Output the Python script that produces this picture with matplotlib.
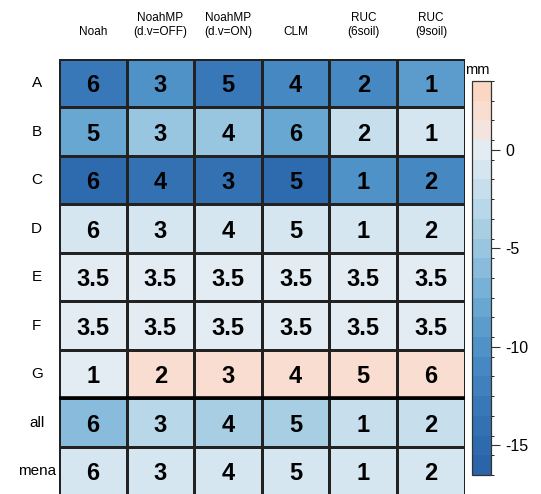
import matplotlib
matplotlib.use("Agg")
import matplotlib.pyplot as plt
import numpy as np
from matplotlib.colors import ListedColormap, BoundaryNorm

plt.rcParams['font.family'] = ['Liberation Sans', 'DejaVu Sans']

models = ["Noah", "NoahMP\n(d.v=OFF)", "NoahMP\n(d.v=ON)", "CLM", "RUC\n(6soil)", "RUC\n(9soil)"]
regions = ["A", "B", "C", "D", "E", "F", "G", "all", "mena"]

# bias field (mm) used for the cell colours
bias = np.array([
    [-13.5, -10.5, -13.0, -11.0, -11.0, -9.0],
    [-8.0, -5.0, -5.0, -8.0, -2.0, -1.0],
    [-15.5, -14.5, -14.0, -15.0, -10.5, -11.5],
    [-1.0, -1.0, -1.0, -1.0, -1.0, -1.0],
    [-0.2, -0.2, -0.2, -0.2, -0.2, -0.2],
    [-0.2, -0.2, -0.2, -0.2, -0.2, -0.2],
    [0.0, 2.0, 2.0, 2.0, 2.0, 2.0],
    [-6.0, -3.0, -4.5, -4.0, -2.0, -2.0],
    [-1.0, -1.0, -1.0, -1.0, -1.0, -1.0],
])

# rank written in each cell
ranks = [
    ["6", "3", "5", "4", "2", "1"],
    ["5", "3", "4", "6", "2", "1"],
    ["6", "4", "3", "5", "1", "2"],
    ["6", "3", "4", "5", "1", "2"],
    ["3.5", "3.5", "3.5", "3.5", "3.5", "3.5"],
    ["3.5", "3.5", "3.5", "3.5", "3.5", "3.5"],
    ["1", "2", "3", "4", "5", "6"],
    ["6", "3", "4", "5", "1", "2"],
    ["6", "3", "4", "5", "1", "2"],
]

# one colour per 1 mm band, from -16 up to +3
band_colors = ["#2a64a9", "#2e6aae", "#3371b3", "#3978b8", "#3f80bd",
               "#4688c2", "#4f92c7", "#5b9ccc", "#68a7d2", "#78b1d7",
               "#88bbdc", "#98c5e0", "#a8cee4", "#b8d7e9", "#c7dfed",
               "#d5e6f0", "#e3ecf2", "#f3e4de", "#f8ddd0", "#fad6c3"]
levels = np.arange(-16.5, 4.0, 1.0)
cmap = ListedColormap(band_colors)
norm = BoundaryNorm(levels, cmap.N)

fig = plt.figure(figsize=(5.41, 4.94), dpi=100)
ax = fig.add_axes([0.109, -0.003, 0.750, 0.8836])

nrow, ncol = bias.shape
mesh = ax.pcolormesh(np.arange(ncol + 1), np.arange(nrow + 1), bias,
                     cmap=cmap, norm=norm, edgecolor="#222222", linewidth=0.9)
ax.set_xlim(0, ncol)
ax.set_ylim(nrow, 0)
ax.axis("off")
ax.axhline(7, color="black", linewidth=2.6)

for i in range(nrow):
    for j in range(ncol):
        ax.text(j + 0.5, i + 0.55, ranks[i][j], ha="center", va="center",
                fontsize=17, fontweight="bold", color="black")

for j, m in enumerate(models):
    ax.text(j + 0.5, -0.43, m, ha="center", va="bottom", fontsize=8.5,
            linespacing=1.2)

for i, r in enumerate(regions):
    ax.text(-0.33, i + 0.5, r, ha="center", va="center", fontsize=11)

cax = fig.add_axes([0.8725, 0.0385, 0.035, 0.7976])
cb = fig.colorbar(mesh, cax=cax, ticks=[0, -5, -10, -15])
cb.ax.set_yticklabels(["0", "-5", "-10", "-15"])
cb.ax.tick_params(length=6.5, width=0.8, labelsize=11.5, pad=4, color="#333333")
cb.outline.set_edgecolor("#333333")
cb.outline.set_linewidth(0.9)
fig.text(0.882, 1 - 70 / 494, "mm", ha="center", va="center", fontsize=10.5)

fig.savefig("out.png", dpi=100)
